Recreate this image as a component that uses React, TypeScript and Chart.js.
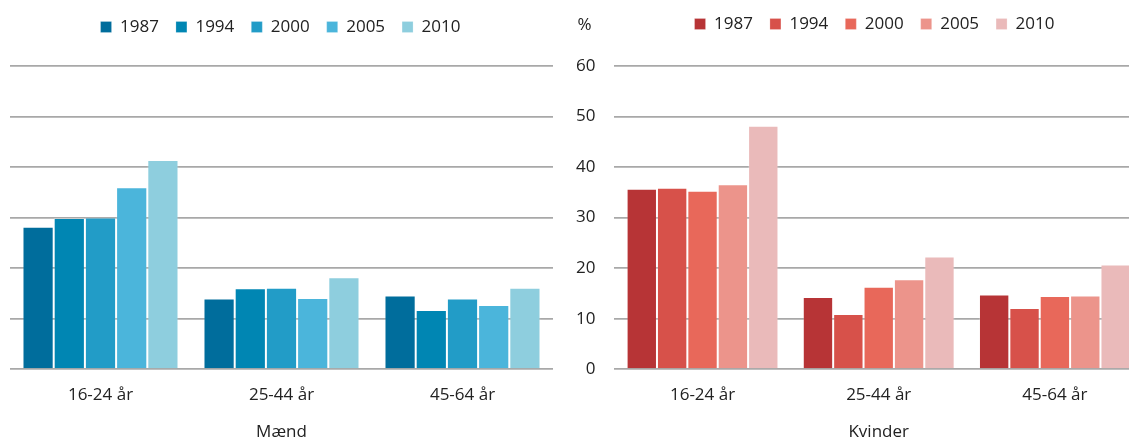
import React, { useEffect, useRef } from 'react';
import { Chart, registerables } from 'chart.js';

Chart.register(...registerables);

// ---------- data ----------
const categories = ['16-24 år', '25-44 år', '45-64 år'];
const years = ['1987', '1994', '2000', '2005', '2010'];

const menTitle = 'Mænd';
const womenTitle = 'Kvinder';
const yUnit = '%';

const men1987 = [28.2, 14.0, 14.6];
const men1994 = [29.9, 16.0, 11.7];
const men2000 = [30.0, 16.1, 14.0];
const men2005 = [36.0, 14.1, 12.7];
const men2010 = [41.4, 18.2, 16.1];

const women1987 = [35.7, 14.3, 14.8];
const women1994 = [35.9, 10.9, 12.1];
const women2000 = [35.3, 16.3, 14.5];
const women2005 = [36.6, 17.8, 14.6];
const women2010 = [48.2, 22.3, 20.7];

const yMin = 0;
const yMax = 60;
const yStep = 10;

// ---------- styles ----------
const blueColors = ['#006D9C', '#0086B3', '#229CC7', '#4BB5DB', '#8ECEDE'];
const redColors = ['#B73436', '#D7514A', '#E8685A', '#EC948B', '#EABABA'];
const FONT = "'Open Sans', 'Liberation Sans', sans-serif";
const TEXT = '#222222';
const GRID = '#A8A8A8';

type PanelProps = {
  series: number[][];
  colors: string[];
  title: string;
  showY: boolean;
  width: number;
  height: number;
  left: number;
  padding: { left: number; right: number; top: number; bottom: number };
  legendDx: number;
  legendDy: number;
};

function Panel(p: PanelProps) {
  const ref = useRef<HTMLCanvasElement | null>(null);
  useEffect(() => {
    if (!ref.current) return;
    const legendShift = {
      id: 'legendShift',
      afterLayout(chart: any) {
        const l = chart.legend;
        if (!l) return;
        l.left += p.legendDx;
        l.right += p.legendDx;
        l.top += p.legendDy;
        l.bottom += p.legendDy;
      },
    };
    const unitLabel = {
      id: 'unitLabel',
      afterDraw(chart: any) {
        if (!p.showY) return;
        const ys = chart.scales.y;
        const ctx = chart.ctx;
        ctx.save();
        ctx.font = `17px ${FONT}`;
        ctx.fillStyle = TEXT;
        ctx.textAlign = 'center';
        ctx.textBaseline = 'middle';
        ctx.fillText(yUnit, ys.right - 30, 25);
        ctx.restore();
      },
    };
    const chart = new Chart(ref.current, {
      type: 'bar',
      data: {
        labels: categories,
        datasets: years.map((yr, i) => ({
          label: yr,
          data: p.series[i],
          backgroundColor: p.colors[i],
          borderColor: 'rgba(255,255,255,0.22)',
          borderWidth: 1,
          categoryPercentage: 0.862,
          barPercentage: 1,
        })),
      },
      options: {
        responsive: false,
        animation: false,
        devicePixelRatio: 1,
        layout: { padding: p.padding },
        plugins: {
          tooltip: { enabled: false },
          legend: {
            display: true,
            position: 'top',
            labels: {
              boxWidth: 11,
              boxHeight: 11,
              padding: 17,
              color: TEXT,
              font: { family: FONT, size: 17 },
            },
          },
        },
        scales: {
          x: {
            type: 'category',
            offset: true,
            grid: { display: false, drawTicks: false },
            border: { display: false },
            ticks: {
              color: TEXT,
              padding: 15.8,
              font: { family: FONT, size: 17 },
            },
            title: {
              display: true,
              text: p.title,
              color: TEXT,
              font: { family: FONT, size: 17, lineHeight: 1 },
              padding: { top: 2.3, bottom: 4.5 },
            },
          },
          y: {
            min: yMin,
            max: yMax,
            border: { display: false },
            grid: { color: GRID, lineWidth: 1.8, drawTicks: false },
            ticks: {
              display: p.showY,
              stepSize: yStep,
              padding: 19,
              color: TEXT,
              font: { family: FONT, size: 17 },
            },
          },
        },
      },
      plugins: [legendShift, unitLabel],
    });
    return () => chart.destroy();
  }, []);
  return (
    <canvas
      ref={ref}
      width={p.width}
      height={p.height}
      style={{ position: 'absolute', left: p.left, top: 0, width: p.width, height: p.height }}
    />
  );
}

export default function App() {
  return (
    <div
      style={{
        position: 'absolute',
        left: 0,
        top: 0,
        width: 1129,
        height: 439,
        overflow: 'hidden',
        background: '#fff',
      }}
    >
      <Panel
        series={[men1987, men1994, men2000, men2005, men2010]}
        colors={blueColors}
        title={menTitle}
        showY={false}
        width={560}
        height={445}
        left={0}
        padding={{ left: 10, right: 7, top: 22, bottom: 0 }}
        legendDx={-1}
        legendDy={-20.5}
      />
      <Panel
        series={[women1987, women1994, women2000, women2005, women2010]}
        colors={redColors}
        title={womenTitle}
        showY={true}
        width={629}
        height={445}
        left={541}
        padding={{ left: 16, right: 27, top: 22, bottom: 0 }}
        legendDx={24.5}
        legendDy={-23.5}
      />
    </div>
  );
}
